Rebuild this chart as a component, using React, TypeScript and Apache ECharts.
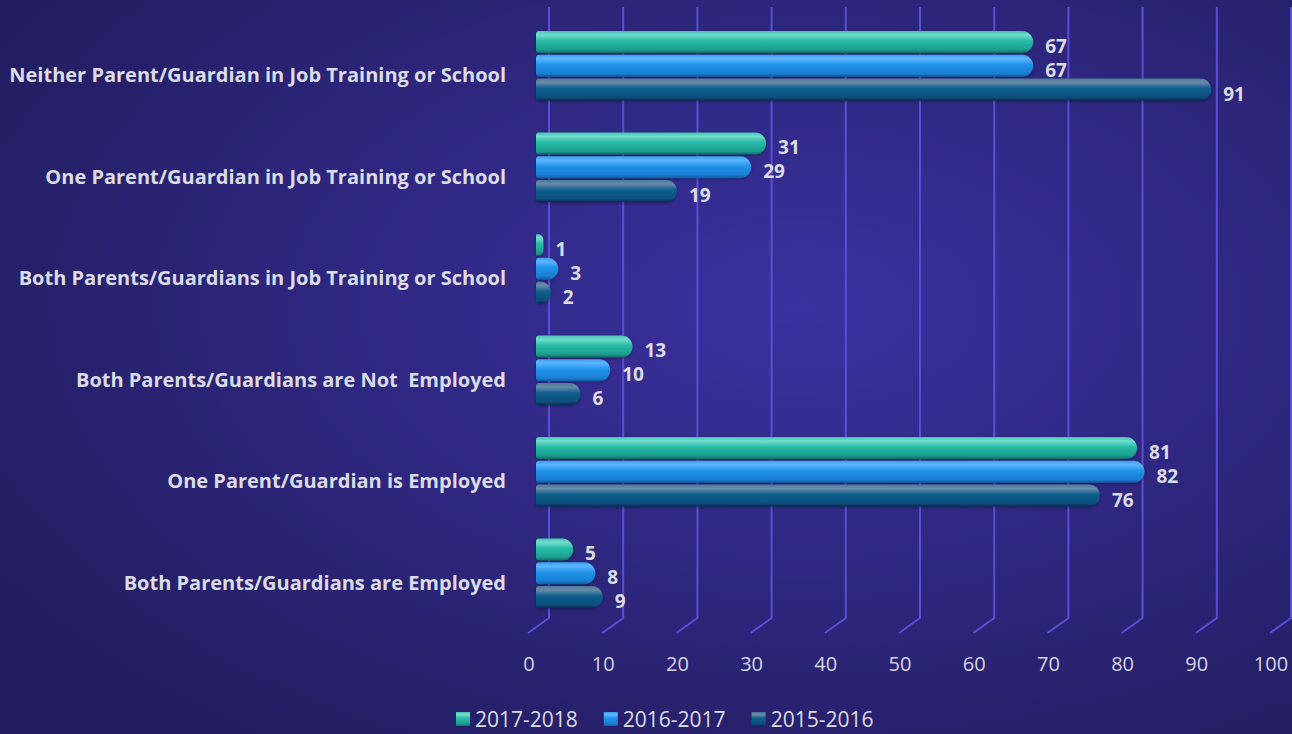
import React, { useEffect, useRef } from "react";
import * as echarts from "echarts";

const categories = [
  "Both Parents/Guardians are Employed",
  "One Parent/Guardian is Employed",
  "Both Parents/Guardians are Not  Employed",
  "Both Parents/Guardians in Job Training or School",
  "One Parent/Guardian in Job Training or School",
  "Neither Parent/Guardian in Job Training or School",
];
const seriesNames = ["2017-2018", "2016-2017", "2015-2016"];
const values20172018 = [5, 81, 13, 1, 31, 67];
const values20162017 = [8, 82, 10, 3, 29, 67];
const values20152016 = [9, 76, 6, 2, 19, 91];
const xTicks = [0, 10, 20, 30, 40, 50, 60, 70, 80, 90, 100];

const grad = (top: string, hi: string, mid: string, low: string, bottom: string) =>
  new echarts.graphic.LinearGradient(0, 0, 0, 1, [
    { offset: 0, color: top },
    { offset: 0.18, color: hi },
    { offset: 0.45, color: mid },
    { offset: 0.85, color: low },
    { offset: 1, color: bottom },
  ]);

const FONT = "'Open Sans'";

export default function App() {
  const ref = useRef<HTMLDivElement>(null);
  useEffect(() => {
    document.body.style.margin = "0";
    if (!ref.current) return;
    const chart = echarts.init(ref.current, null, { renderer: "svg" });
    const labelColor = "#dcdce6";
    const mkSeries = (name: string, data: number[], color: any) => ({
      name,
      type: "bar",
      data,
      barWidth: 22,
      barGap: "8%",
      z: 3,
      itemStyle: {
        color,
        borderRadius: [3, 11, 11, 3],
        shadowColor: "rgba(0,0,0,0.35)",
        shadowBlur: 3,
        shadowOffsetY: 1,
      },
      label: {
        show: true,
        position: "right",
        distance: 12,
        offset: [0, 4],
        color: labelColor,
        fontFamily: FONT,
        fontWeight: "bold",
        fontSize: 19,
        lineHeight: 17,
      },
    });
    const teal = grad("#44c4b2", "#72dccb", "#27bba8", "#1c9e90", "#106a64");
    const blue = grad("#3d9eec", "#5cb6ff", "#2194ea", "#1a7fd2", "#0f5aa0");
    const dark = grad("#4c7898", "#6a8caa", "#0f5f8e", "#0a4f7c", "#05304f");
    chart.setOption({
      animation: false,
      backgroundColor: {
        type: "radial",
        x: 0.62,
        y: 0.42,
        r: 0.75,
        colorStops: [
          { offset: 0, color: "#3b31a0" },
          { offset: 1, color: "#221d5e" },
        ],
      },
      grid: { left: 536, width: 742, top: 15, height: 609, containLabel: false },
      legend: {
        data: seriesNames,
        left: 456,
        top: 707,
        padding: 0,
        itemWidth: 14,
        itemHeight: 14,
        itemGap: 26,
        icon: "rect",
        textStyle: { color: labelColor, fontFamily: FONT, fontSize: 21, lineHeight: 24 },
      },
      xAxis: {
        type: "value",
        min: 0,
        max: 100,
        interval: 10,
        axisLine: { show: false },
        axisTick: { show: false },
        splitLine: { show: false },
        axisLabel: {
          color: "#d6d6e2",
          fontFamily: FONT,
          fontSize: 20,
          margin: 29,
          padding: [0, 14, 0, 0],
        },
      },
      yAxis: {
        type: "category",
        data: categories,
        axisLine: { show: false },
        axisTick: { show: false },
        splitLine: { show: false },
        axisLabel: {
          color: labelColor,
          fontFamily: FONT,
          fontWeight: "bold",
          fontSize: 20,
          margin: 30,
          verticalAlign: "top",
          lineHeight: 18,
        },
      },
      series: [
        {
          type: "custom",
          silent: true,
          z: 1,
          data: xTicks.map((t) => [t, 0]),
          encode: { x: 0, y: 1 },
          renderItem: (params: any, api: any) => {
            const x = api.coord([api.value(0), 0])[0];
            const cs = params.coordSys;
            const top = cs.y - 8;
            const bend = cs.y + cs.height - 6;
            const end = cs.y + cs.height + 9;
            return {
              type: "polyline",
              shape: {
                points: [
                  [x + 13, top],
                  [x + 13, bend],
                  [x - 8, end],
                ],
              },
              style: { stroke: "#5a4fd6", lineWidth: 2, fill: null },
            };
          },
        },
        mkSeries(seriesNames[0], values20172018, teal),
        mkSeries(seriesNames[1], values20162017, blue),
        mkSeries(seriesNames[2], values20152016, dark),
      ],
    });
    return () => chart.dispose();
  }, []);
  return <div ref={ref} style={{ width: 1292, height: 734 }} />;
}
